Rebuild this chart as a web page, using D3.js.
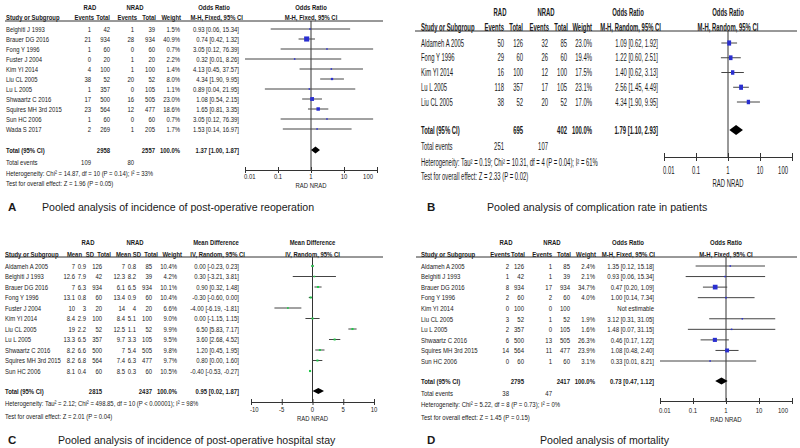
<!DOCTYPE html>
<html><head><meta charset="utf-8">
<script src="https://cdn.jsdelivr.net/npm/d3@7"></script>
<style>
body{margin:0;background:#fff;}
svg text{font-family:"Liberation Sans",Arial,sans-serif;fill:#1a1a1a;}
</style></head><body>
<svg id="c" width="800" height="448"></svg>
<script>
// ---------- Panel A: reoperation ----------
const studiesA = ["Belghiti J 1993","Brauer DG 2016","Fong Y 1996","Fuster J 2004","Kim YI 2014","Liu CL 2005","Lu L 2005","Shwaartz C 2016","Squires MH 3rd 2015","Sun HC 2006","Wada S 2017"];
const radEventsA = [1,21,1,0,4,38,1,17,23,1,2];
const radTotalA = [42,934,60,20,100,52,357,500,564,60,269];
const nradEventsA = [1,28,0,1,1,20,0,16,12,0,1];
const nradTotalA = [39,934,60,20,100,52,105,505,477,60,205];
const weightA = [1.5,40.9,0.7,2.2,1.4,8.0,1.1,23.0,18.6,0.7,1.7];
const estA = [0.93,0.74,3.05,0.32,4.13,4.34,0.89,1.08,1.65,3.05,1.53];
const lowA = [0.06,0.42,0.12,0.01,0.45,1.90,0.04,0.54,0.81,0.12,0.14];
const highA = [15.34,1.32,76.39,8.26,37.57,9.95,21.95,2.15,3.35,76.39,16.97];
const totalA = {rad:2958, nrad:2557, est:1.37, low:1.00, high:1.87, evRad:109, evNrad:80};
const hetA = "Heterogeneity: Chi² = 14.87, df = 10 (P = 0.14); I² = 33%";
const testA = "Test for overall effect: Z = 1.96 (P = 0.05)";

// ---------- Panel B: complication rate ----------
const studiesB = ["Aldameh A 2005","Fong Y 1996","Kim YI 2014","Lu L 2005","Liu CL 2005"];
const radEventsB = [50,29,16,118,38];
const radTotalB = [126,60,100,357,52];
const nradEventsB = [32,26,12,17,20];
const nradTotalB = [85,60,100,105,52];
const weightB = [23.0,19.4,17.5,23.1,17.0];
const estB = [1.09,1.22,1.40,2.56,4.34];
const lowB = [0.62,0.60,0.62,1.45,1.90];
const highB = [1.92,2.51,3.13,4.49,9.95];
const totalB = {rad:695, nrad:402, est:1.79, low:1.10, high:2.93, evRad:251, evNrad:107};
const hetB = "Heterogeneity: Tau² = 0.19; Chi² = 10.31, df = 4 (P = 0.04); I² = 61%";
const testB = "Test for overall effect: Z = 2.33 (P = 0.02)";

// ---------- Panel C: hospital stay ----------
const studiesC = ["Aldameh A 2005","Belghiti J 1993","Brauer DG 2016","Fong Y 1996","Fuster J 2004","Kim YI 2014","Liu CL 2005","Lu L 2005","Shwaartz C 2016","Squires MH 3rd 2015","Sun HC 2006"];
const radMeanC = [7,12.6,7,13.1,10,8.4,19,13.3,8.2,8.2,8.1];
const radSDC = [0.9,7.9,6.3,0.8,3,2.9,2.2,6.5,6.6,6.8,0.4];
const radTotalC = [126,42,934,60,20,100,52,357,500,564,60];
const nradMeanC = [7,12.3,6.1,13.4,14,8.4,12.5,9.7,7,7.4,8.5];
const nradSDC = [0.8,8.2,6.5,0.9,4,5.1,1.1,3.3,5.4,6.3,0.3];
const nradTotalC = [85,39,934,60,20,100,52,105,505,477,60];
const weightC = [10.4,4.2,10.1,10.4,6.6,9.0,9.9,9.5,9.8,9.7,10.5];
const estC = [0.00,0.30,0.90,-0.30,-4.00,0.00,6.50,3.60,1.20,0.80,-0.40];
const lowC = [-0.23,-3.21,0.32,-0.60,-6.19,-1.15,5.83,2.68,0.45,0.00,-0.53];
const highC = [0.23,3.81,1.48,0.00,-1.81,1.15,7.17,4.52,1.95,1.60,-0.27];
const totalC = {rad:2815, nrad:2437, est:0.95, low:0.02, high:1.87};
const hetC = "Heterogeneity: Tau² = 2.12; Chi² = 498.85, df = 10 (P < 0.00001); I² = 98%";
const testC = "Test for overall effect: Z = 2.01 (P = 0.04)";

// ---------- Panel D: mortality ----------
const studiesD = ["Aldameh A 2005","Belghiti J 1993","Brauer DG 2016","Fong Y 1996","Kim YI 2014","Liu CL 2005","Lu L 2005","Shwaartz C 2016","Squires MH 3rd 2015","Sun HC 2006"];
const radEventsD = [2,1,8,2,0,3,2,6,14,0];
const radTotalD = [126,42,934,60,100,52,357,500,564,60];
const nradEventsD = [1,1,17,2,0,1,0,13,11,1];
const nradTotalD = [85,39,934,60,100,52,105,505,477,60];
const weightD = [2.4,2.1,34.7,4.0,null,1.9,1.6,26.3,23.9,3.1];
const estD = [1.35,0.93,0.47,1.00,null,3.12,1.48,0.46,1.08,0.33];
const lowD = [0.12,0.06,0.20,0.14,null,0.31,0.07,0.17,0.48,0.01];
const highD = [15.18,15.34,1.09,7.34,null,31.05,31.15,1.22,2.40,8.21];
const totalD = {rad:2795, nrad:2417, est:0.73, low:0.47, high:1.12, evRad:38, evNrad:47};
const hetD = "Heterogeneity: Chi² = 5.22, df = 8 (P = 0.73); I² = 0%";
const testD = "Test for overall effect: Z = 1.45 (P = 0.15)";

const logTicks = [0.01,0.1,1,10,100];
const linTicks = [-10,-5,0,5,10];
const captions = ["Pooled analysis of incidence of post-operative reoperation","Pooled analysis of complication rate in patients","Pooled analysis of incidence of post-operative hospital stay","Pooled analysis of mortality"];
const letters = ["A","B","C","D"];

const svg = d3.select("#c");
const f2 = v => v.toFixed(2);
const pct = v => v == null ? "" : v.toFixed(1) + "%";
const ciStr = (e,l,h) => e == null ? "Not estimable" : `${f2(e)} [${f2(l)}, ${f2(h)}]`;
const SX = 0.78;

function drawPanel(p) {
  const g = svg.append("g");
  const sy = p.sy || 1;
  const T = (x, y, s, o = {}) => {
    return g.append("text").attr("x", x).attr("y", y).text(s)
      .attr("text-anchor", o.anchor || "start")
      .attr("dominant-baseline", "central")
      .attr("transform", `translate(${x},${y}) scale(${SX},${sy}) translate(${-x},${-y})`)
      .style("font-size", (o.size || p.fs) + "px")
      .style("font-weight", o.bold ? "700" : "400");
  };
  const n = p.studies.length;
  const y = d3.scalePoint().domain(d3.range(n)).range([p.rowY0, p.rowY1]);

  // headers
  p.groups.forEach(gr => T(gr.x, p.h1, gr.t, {anchor: "middle", bold: true}));
  T(p.nameX, p.h2, "Study or Subgroup", {bold: true});
  p.cols.forEach(c => T(c.hr, p.h2, c.h, {anchor: "end", bold: true}));
  T(p.nullX, p.h1, p.plotH1, {anchor: "middle", bold: true});
  T(p.nullX, p.h2, p.plotH2, {anchor: "middle", bold: true});
  g.append("line").attr("x1", p.lineX0).attr("x2", p.lineX1).attr("y1", p.hl).attr("y2", p.hl)
    .attr("stroke", "#333").attr("stroke-width", 1);

  // rows
  p.studies.forEach((s, i) => {
    T(p.nameX, y(i), s);
    p.cols.forEach(c => T(c.r, y(i), c.f(i), {anchor: "end"}));
  });
  T(p.nameX, p.totY, "Total (95% CI)", {bold: true});
  p.totalVals.forEach(tv => T(p.cols[tv.c].r, p.totY, tv.t, {anchor: "end", bold: true}));
  if (p.evY) {
    T(p.nameX, p.evY, "Total events");
    p.evVals.forEach(tv => T(p.cols[tv.c].r, p.evY, tv.t, {anchor: "end"}));
  }
  T(p.nameX, p.hetY, p.het);
  T(p.nameX, p.testY, p.test);

  // plot
  const x = p.x;
  g.append("line").attr("x1", p.nullX).attr("x2", p.nullX).attr("y1", p.hl).attr("y2", p.axisY)
    .attr("stroke", "#333").attr("stroke-width", 1);
  p.est.forEach((e, i) => {
    if (e == null) return;
    g.append("line").attr("x1", x(p.low[i])).attr("x2", x(p.high[i]))
      .attr("y1", y(i)).attr("y2", y(i)).attr("stroke", "#444").attr("stroke-width", 1);
    const w = Math.max(1.5, Math.sqrt(p.weight[i]) * p.sq);
    const hgt = w * sy;
    g.append("rect").attr("x", x(e) - w / 2).attr("y", y(i) - hgt / 2)
      .attr("width", w).attr("height", hgt).attr("fill", p.sqColor);
  });
  const tt = p.total, dh = p.dia / 2;
  g.append("polygon").attr("points", [
    [x(tt.low), p.totY], [x(tt.est), p.totY - dh], [x(tt.high), p.totY], [x(tt.est), p.totY + dh]
  ].map(d => d.join(",")).join(" ")).attr("fill", "#000");

  // axis
  const ax = g.append("g").attr("transform", `translate(0,${p.axisY})`)
    .call(d3.axisBottom(x).tickValues(p.ticks).tickSizeInner(p.tk).tickSizeOuter(0)
      .tickFormat(d => String(d)));
  ax.select(".domain").attr("stroke", "#333");
  ax.selectAll(".tick line").attr("y1", -p.tk).attr("y2", p.tk).attr("stroke", "#333");
  ax.selectAll(".tick text").remove();
  p.ticks.forEach((t, i) => {
    let anchor = "middle", xx = x(t);
    if (i === 0 && p.firstStart) { anchor = "start"; xx -= 1; }
    if (i === p.ticks.length - 1 && p.lastEnd) { anchor = "end"; xx -= 4; }
    T(xx, p.tickY, String(t), {anchor});
  });
  T(p.nullX, p.favY, "RAD  NRAD", {anchor: "middle"});
}

function caption(i, lx, tx, yy) {
  svg.append("text").attr("x", lx).attr("y", yy).attr("dominant-baseline", "central")
    .style("font-size", "11.5px").style("font-weight", "700").text(letters[i]);
  svg.append("text").attr("x", tx).attr("y", yy).attr("dominant-baseline", "central")
    .style("font-size", "10.6px").text(captions[i]);
}

// Panel A
{
  const x = d3.scaleLog().domain([0.01, 100]).range([245, 377]);
  drawPanel({
    studies: studiesA, fs: 7.6, rowY0: 29, rowY1: 129, h1: 7, h2: 17, hl: 21, lineX0: 5, lineX1: 383,
    nameX: 6,
    groups: [{t: "RAD", x: 90}, {t: "NRAD", x: 135}, {t: "Odds Ratio", x: 214}],
    cols: [
      {h: "Events", hr: 94, r: 91, f: i => radEventsA[i]},
      {h: "Total", hr: 110, r: 110, f: i => radTotalA[i]},
      {h: "Events", hr: 137, r: 134, f: i => nradEventsA[i]},
      {h: "Total", hr: 156, r: 155, f: i => nradTotalA[i]},
      {h: "Weight", hr: 181, r: 180, f: i => pct(weightA[i])},
      {h: "M-H, Fixed, 95% CI", hr: 243, r: 239, f: i => ciStr(estA[i], lowA[i], highA[i])}
    ],
    totY: 150, evY: 162, hetY: 173, testY: 183,
    totalVals: [{c: 1, t: totalA.rad}, {c: 3, t: totalA.nrad}, {c: 4, t: "100.0%"}, {c: 5, t: ciStr(totalA.est, totalA.low, totalA.high)}],
    evVals: [{c: 0, t: totalA.evRad}, {c: 2, t: totalA.evNrad}],
    het: hetA, test: testA,
    x, nullX: x(1), plotH1: "Odds Ratio", plotH2: "M-H, Fixed, 95% CI",
    est: estA, low: lowA, high: highA, weight: weightA, sq: 0.8, sqColor: "#2a2fd0",
    total: totalA, dia: 7, axisY: 170, tk: 3, ticks: logTicks, tickY: 176.5, favY: 185,
    firstStart: true, lastEnd: true
  });
}
// Panel B
{
  const x = d3.scaleLog().domain([0.01, 100]).range([664, 792]);
  drawPanel({
    studies: studiesB, fs: 7.6, sy: 1.35, rowY0: 43, rowY1: 102, h1: 12, h2: 27, hl: 31, lineX0: 415, lineX1: 797,
    nameX: 421,
    groups: [{t: "RAD", x: 500}, {t: "NRAD", x: 546}, {t: "Odds Ratio", x: 628}],
    cols: [
      {h: "Events", hr: 504, r: 504, f: i => radEventsB[i]},
      {h: "Total", hr: 523, r: 523, f: i => radTotalB[i]},
      {h: "Events", hr: 549, r: 548, f: i => nradEventsB[i]},
      {h: "Total", hr: 568, r: 567, f: i => nradTotalB[i]},
      {h: "Weight", hr: 592, r: 592, f: i => pct(weightB[i])},
      {h: "M-H, Random, 95% CI", hr: 661, r: 658, f: i => ciStr(estB[i], lowB[i], highB[i])}
    ],
    totY: 130, evY: 146, hetY: 162, testY: 176,
    totalVals: [{c: 1, t: totalB.rad}, {c: 3, t: totalB.nrad}, {c: 4, t: "100.0%"}, {c: 5, t: ciStr(totalB.est, totalB.low, totalB.high)}],
    evVals: [{c: 0, t: totalB.evRad}, {c: 2, t: totalB.evNrad}],
    het: hetB, test: testB,
    x, nullX: x(1), plotH1: "Odds Ratio", plotH2: "M-H, Random, 95% CI",
    est: estB, low: lowB, high: highB, weight: weightB, sq: 0.8, sqColor: "#2a2fd0",
    total: totalB, dia: 10, axisY: 157, tk: 4, ticks: logTicks, tickY: 170, favY: 183,
    firstStart: true, lastEnd: true
  });
}
// Panel C
{
  const x = d3.scaleLinear().domain([-10, 10]).range([251, 374]);
  drawPanel({
    studies: studiesC, fs: 7.6, rowY0: 266, rowY1: 371, h1: 242, h2: 254, hl: 257, lineX0: 5, lineX1: 383,
    nameX: 5,
    groups: [{t: "RAD", x: 88}, {t: "NRAD", x: 135}, {t: "Mean Difference", x: 216}],
    cols: [
      {h: "Mean", hr: 82, r: 75, f: i => radMeanC[i]},
      {h: "SD", hr: 94, r: 86, f: i => radSDC[i]},
      {h: "Total", hr: 111, r: 102, f: i => radTotalC[i]},
      {h: "Mean", hr: 131, r: 125, f: i => nradMeanC[i]},
      {h: "SD", hr: 141, r: 136, f: i => nradSDC[i]},
      {h: "Total", hr: 158, r: 152, f: i => nradTotalC[i]},
      {h: "Weight", hr: 182, r: 177, f: i => pct(weightC[i])},
      {h: "IV, Random, 95% CI", hr: 245, r: 239, f: i => ciStr(estC[i], lowC[i], highC[i])}
    ],
    totY: 391, hetY: 403, testY: 416,
    totalVals: [{c: 2, t: totalC.rad}, {c: 5, t: totalC.nrad}, {c: 6, t: "100.0%"}, {c: 7, t: ciStr(totalC.est, totalC.low, totalC.high)}],
    het: hetC, test: testC,
    x, nullX: x(0), plotH1: "Mean Difference", plotH2: "IV, Random, 95% CI",
    est: estC, low: lowC, high: highC, weight: weightC, sq: 0.65, sqColor: "#22c84a",
    total: totalC, dia: 6, axisY: 402, tk: 3, ticks: linTicks, tickY: 409, favY: 418,
    firstStart: true, lastEnd: false
  });
}
// Panel D
{
  const x = d3.scaleLog().domain([0.01, 100]).range([660, 792]);
  drawPanel({
    studies: studiesD, fs: 7.7, rowY0: 266, rowY1: 361, h1: 242, h2: 254, hl: 257, lineX0: 416, lineX1: 797,
    nameX: 421,
    groups: [{t: "RAD", x: 506}, {t: "NRAD", x: 552}, {t: "Odds Ratio", x: 628}],
    cols: [
      {h: "Events", hr: 510, r: 509, f: i => radEventsD[i]},
      {h: "Total", hr: 525, r: 524, f: i => radTotalD[i]},
      {h: "Events", hr: 552, r: 552, f: i => nradEventsD[i]},
      {h: "Total", hr: 571, r: 570, f: i => nradTotalD[i]},
      {h: "Weight", hr: 596, r: 595, f: i => pct(weightD[i])},
      {h: "M-H, Fixed, 95% CI", hr: 655, r: 654, f: i => ciStr(estD[i], lowD[i], highD[i])}
    ],
    totY: 381, evY: 393, hetY: 404, testY: 417,
    totalVals: [{c: 1, t: totalD.rad}, {c: 3, t: totalD.nrad}, {c: 4, t: "100.0%"}, {c: 5, t: ciStr(totalD.est, totalD.low, totalD.high)}],
    evVals: [{c: 0, t: totalD.evRad}, {c: 2, t: totalD.evNrad}],
    het: hetD, test: testD,
    x, nullX: x(1), plotH1: "Odds Ratio", plotH2: "M-H, Fixed, 95% CI",
    est: estD, low: lowD, high: highD, weight: weightD, sq: 0.8, sqColor: "#2a2fd0",
    total: totalD, dia: 7, axisY: 401, tk: 3, ticks: logTicks, tickY: 410, favY: 419,
    firstStart: true, lastEnd: true
  });
}

caption(0, 8, 42, 207);
caption(1, 427, 487, 207);
caption(2, 8, 58, 440);
caption(3, 427, 540, 440);
</script>
</body></html>
